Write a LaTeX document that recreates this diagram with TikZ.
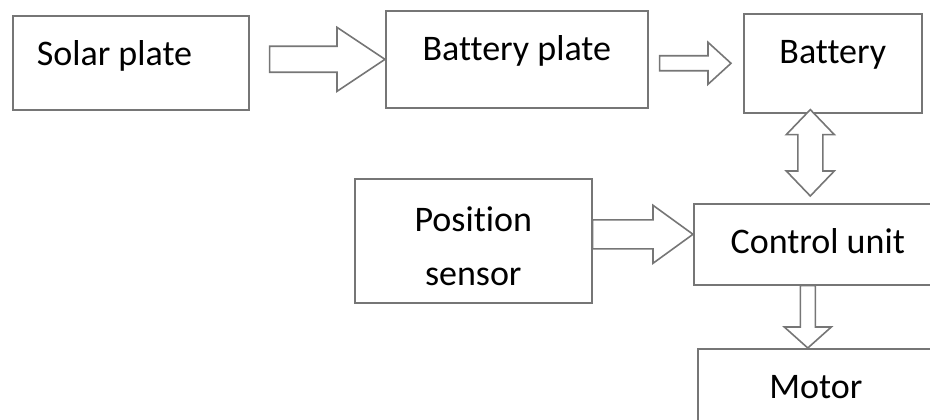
\documentclass[tikz,border=0pt]{standalone}
\usepackage{fontspec}
\setmainfont{Carlito}[Ligatures=NoCommon]
\usetikzlibrary{calc}

\definecolor{edgegray}{RGB}{118,118,118}

% block arrows: start, tip, shaft half width, head half width, head length
\newcommand{\blockright}[5]{%
  \draw[blk] let \p1=(#1), \p2=(#2) in
    (\x1,\y2+#3) -- (\x2-#5,\y2+#3) -- (\x2-#5,\y2+#4) -- (\x2,\y2)
    -- (\x2-#5,\y2-#4) -- (\x2-#5,\y2-#3) -- (\x1,\y2-#3) -- cycle;}
\newcommand{\blockdown}[5]{%
  \draw[blk] let \p1=(#1), \p2=(#2) in
    (\x2-#3,\y1) -- (\x2-#3,\y2+#5) -- (\x2-#4,\y2+#5) -- (\x2,\y2)
    -- (\x2+#4,\y2+#5) -- (\x2+#3,\y2+#5) -- (\x2+#3,\y1) -- cycle;}
\newcommand{\blockboth}[5]{%
  \draw[blk] let \p1=(#1), \p2=(#2) in
    (\x1,\y1) -- (\x1+#4,\y1-#5) -- (\x1+#3,\y1-#5) -- (\x1+#3,\y2+#5)
    -- (\x1+#4,\y2+#5) -- (\x1,\y2) -- (\x1-#4,\y2+#5) -- (\x1-#3,\y2+#5)
    -- (\x1-#3,\y1-#5) -- (\x1-#4,\y1-#5) -- cycle;}

\begin{document}
\begin{tikzpicture}[
      x=1pt, y=-1pt,
      unit/.style={
        draw=edgegray,
        line width=1.6pt,
        anchor=north west,
        inner sep=0pt,
        align=center,
        text height=50pt,
        font=\fontsize{36pt}{54pt}\selectfont
      },
      blk/.style={draw=edgegray, line width=1.6pt, fill=white, line join=miter}
    ]
    \useasboundingbox (0,0) rectangle (930,420);
    \clip (0,0) rectangle (930,420);

    \node[unit, minimum width=236pt, minimum height=94pt, text depth=44pt,
      text width=188pt, align=flush left] (solar) at (12,15) {Solar plate};
    \node[unit, minimum width=262pt, minimum height=97pt, text depth=47pt] (batplate) at (385,10) {Battery plate};
    \node[unit, minimum width=178pt, minimum height=99pt, text depth=49pt] (battery) at (743,13) {Battery};
    \node[unit, minimum width=237pt, minimum height=124pt, text height=107pt, text depth=17pt] (sensor) at (354,178) {Position\\sensor};
    \node[unit, minimum width=248pt, minimum height=81pt, text depth=31pt] (control) at (693,203) {Control unit};
    \node[unit, minimum width=236pt, minimum height=92pt, text depth=42pt] (motor) at (697,348) {Motor};

    \blockright{[xshift=20pt]solar.east}{batplate.west}{13pt}{32pt}{48pt}
    \blockright{[xshift=11pt]batplate.east}{[xshift=-12pt]battery.west}{7.5pt}{21pt}{23pt}
    \blockright{sensor.east}{[yshift=10pt]control.west}{14.5pt}{29pt}{40pt}
    \blockboth{[xshift=-22.5pt,yshift=4pt]battery.south}{[xshift=-7.5pt,yshift=7pt]control.north}{12.5pt}{24pt}{25pt}
    \blockdown{[xshift=-10pt]control.south}{[xshift=-8pt]motor.north}{7.5pt}{23.5pt}{21pt}
  \end{tikzpicture}
\end{document}
